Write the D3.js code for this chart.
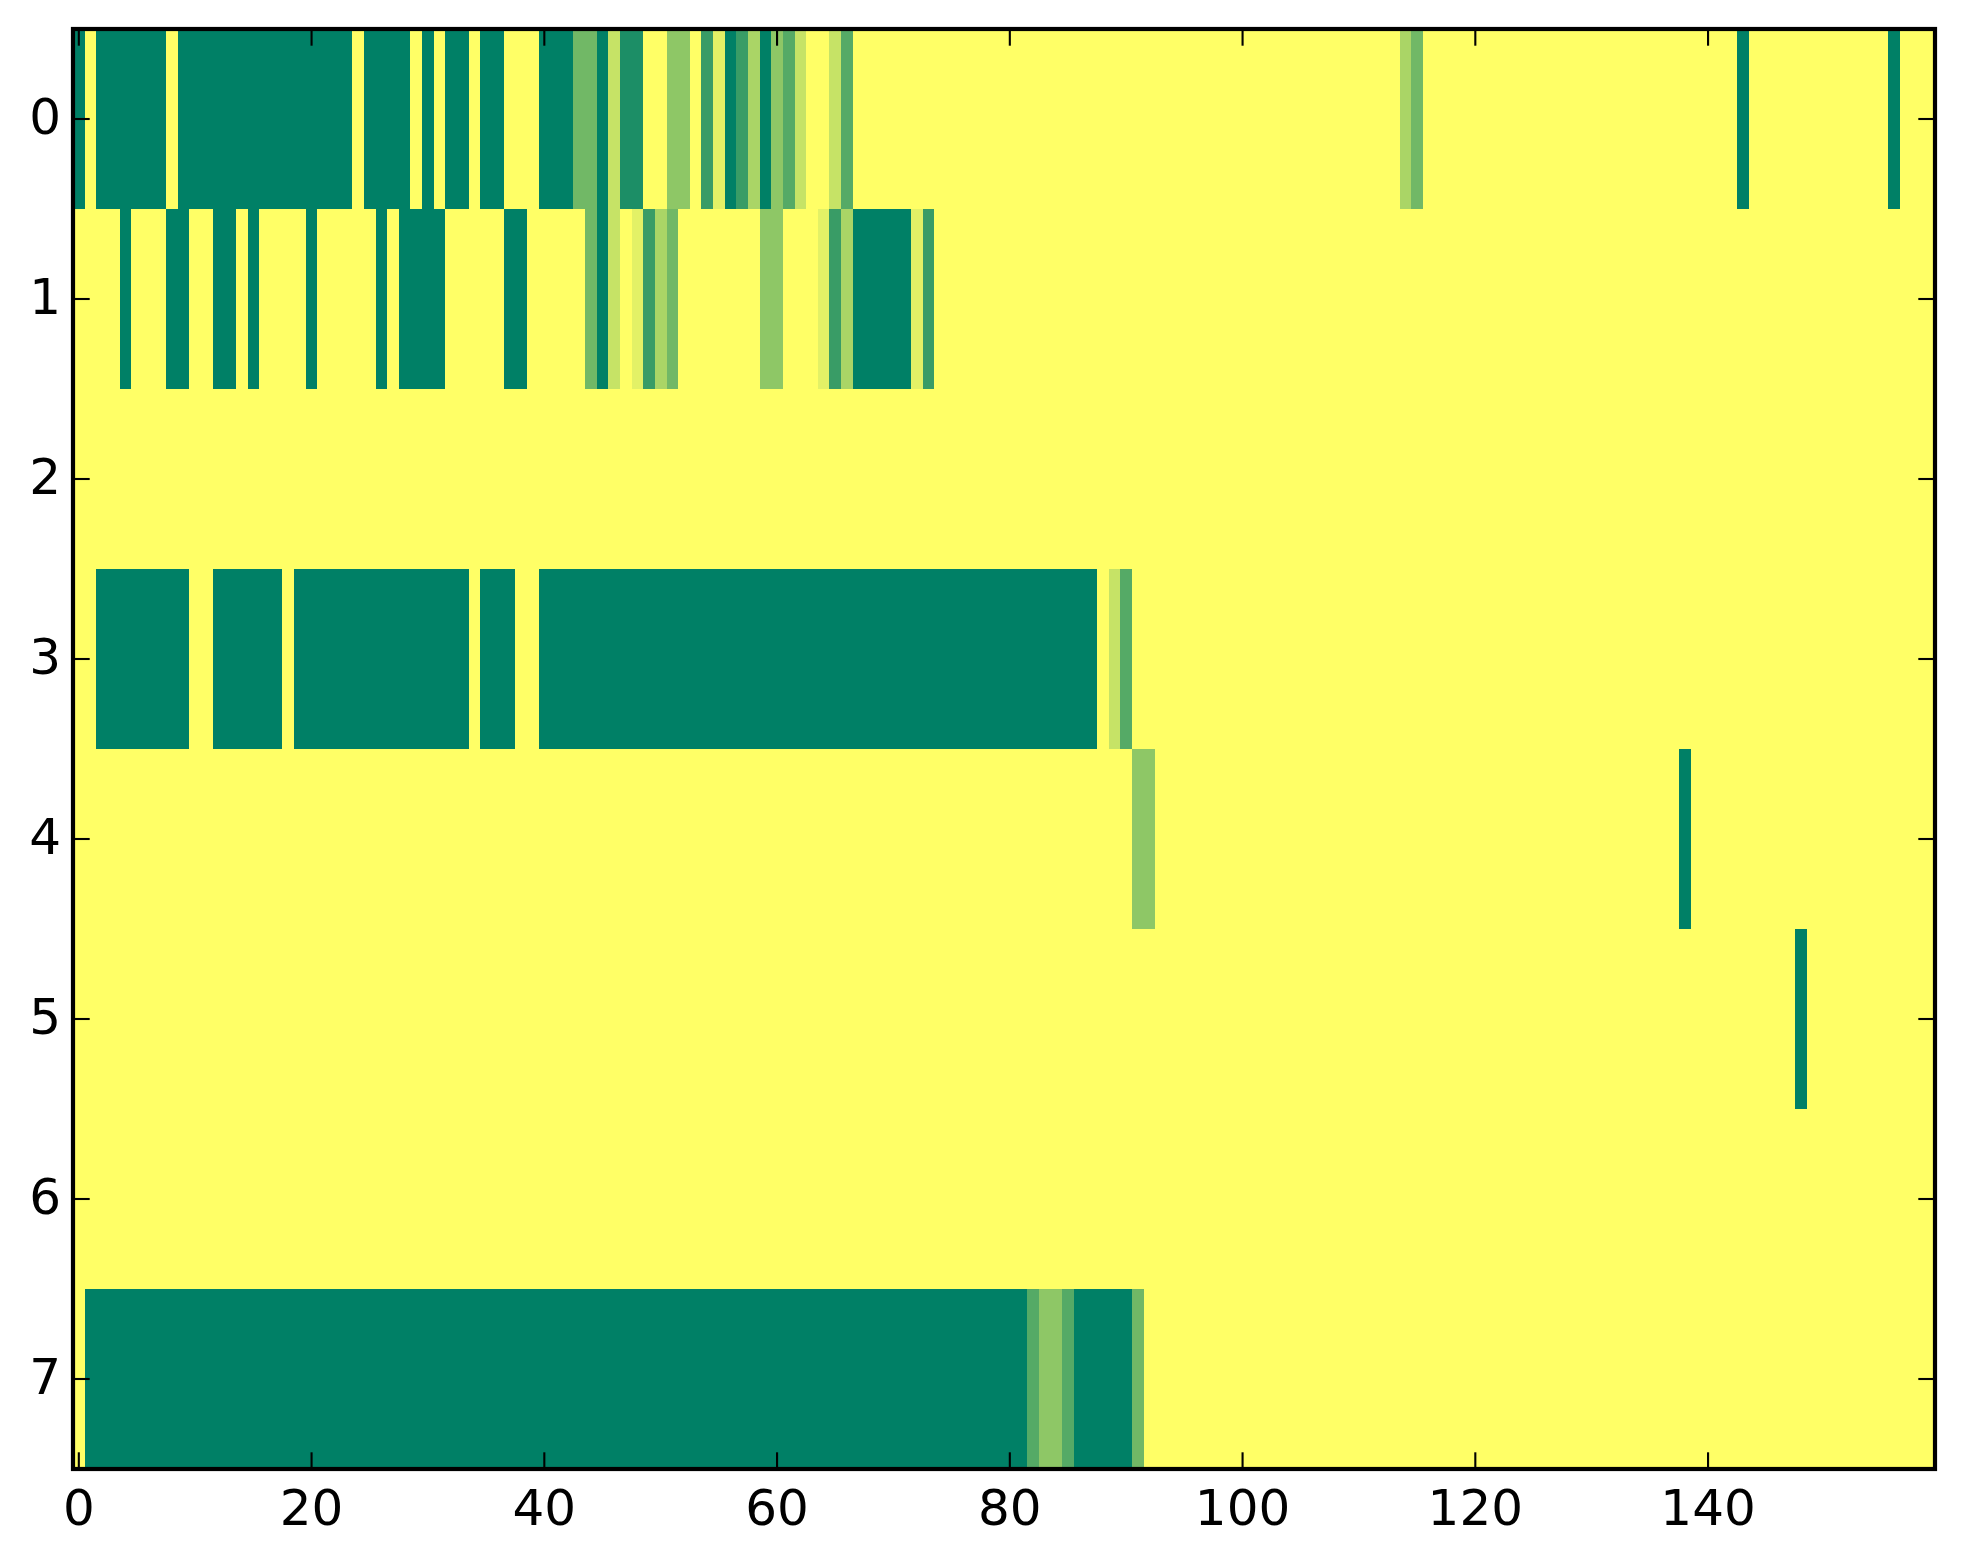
<!DOCTYPE html>
<html>
<head>
<meta charset="utf-8">
<script src="https://cdn.jsdelivr.net/npm/d3@7"></script>
<style>
  html, body { margin: 0; padding: 0; background: #fff; }
  svg { display: block; }
</style>
</head>
<body>
<svg id="chart"></svg>
<script>
// Cell values, counts 0..9 per column (160 columns per row)
const row0 = [
  9,0,9,9,9,9,9,9,0,9,9,9,9,9,9,9,9,9,9,9,
  9,9,9,9,0,9,9,9,9,0,9,0,9,9,0,9,9,0,0,0,
  9,9,9,5,5,9,2,8,8,0,0,4,4,0,7,1,9,7,3,9,
  4,6,2,0,0,2,6,0,0,0,0,0,0,0,0,0,0,0,0,0,
  0,0,0,0,0,0,0,0,0,0,0,0,0,0,0,0,0,0,0,0,
  0,0,0,0,0,0,0,0,0,0,0,0,0,0,3,5,0,0,0,0,
  0,0,0,0,0,0,0,0,0,0,0,0,0,0,0,0,0,0,0,0,
  0,0,0,9,0,0,0,0,0,0,0,0,0,0,0,0,9,0,0,0
];
const row1 = [
  0,0,0,0,9,0,0,0,9,9,0,0,9,9,0,9,0,0,0,0,
  9,0,0,0,0,0,9,0,9,9,9,9,0,0,0,0,0,9,9,0,
  0,0,0,0,5,9,2,0,1,7,3,5,0,0,0,0,0,0,0,4,
  4,0,0,0,1,7,3,9,9,9,9,9,1,7,0,0,0,0,0,0,
  0,0,0,0,0,0,0,0,0,0,0,0,0,0,0,0,0,0,0,0,
  0,0,0,0,0,0,0,0,0,0,0,0,0,0,0,0,0,0,0,0,
  0,0,0,0,0,0,0,0,0,0,0,0,0,0,0,0,0,0,0,0,
  0,0,0,0,0,0,0,0,0,0,0,0,0,0,0,0,0,0,0,0
];
const row2 = [
  0,0,0,0,0,0,0,0,0,0,0,0,0,0,0,0,0,0,0,0,
  0,0,0,0,0,0,0,0,0,0,0,0,0,0,0,0,0,0,0,0,
  0,0,0,0,0,0,0,0,0,0,0,0,0,0,0,0,0,0,0,0,
  0,0,0,0,0,0,0,0,0,0,0,0,0,0,0,0,0,0,0,0,
  0,0,0,0,0,0,0,0,0,0,0,0,0,0,0,0,0,0,0,0,
  0,0,0,0,0,0,0,0,0,0,0,0,0,0,0,0,0,0,0,0,
  0,0,0,0,0,0,0,0,0,0,0,0,0,0,0,0,0,0,0,0,
  0,0,0,0,0,0,0,0,0,0,0,0,0,0,0,0,0,0,0,0
];
const row3 = [
  0,0,9,9,9,9,9,9,9,9,0,0,9,9,9,9,9,9,0,9,
  9,9,9,9,9,9,9,9,9,9,9,9,9,9,0,9,9,9,0,0,
  9,9,9,9,9,9,9,9,9,9,9,9,9,9,9,9,9,9,9,9,
  9,9,9,9,9,9,9,9,9,9,9,9,9,9,9,9,9,9,9,9,
  9,9,9,9,9,9,9,9,0,2,6,0,0,0,0,0,0,0,0,0,
  0,0,0,0,0,0,0,0,0,0,0,0,0,0,0,0,0,0,0,0,
  0,0,0,0,0,0,0,0,0,0,0,0,0,0,0,0,0,0,0,0,
  0,0,0,0,0,0,0,0,0,0,0,0,0,0,0,0,0,0,0,0
];
const row4 = [
  0,0,0,0,0,0,0,0,0,0,0,0,0,0,0,0,0,0,0,0,
  0,0,0,0,0,0,0,0,0,0,0,0,0,0,0,0,0,0,0,0,
  0,0,0,0,0,0,0,0,0,0,0,0,0,0,0,0,0,0,0,0,
  0,0,0,0,0,0,0,0,0,0,0,0,0,0,0,0,0,0,0,0,
  0,0,0,0,0,0,0,0,0,0,0,4,4,0,0,0,0,0,0,0,
  0,0,0,0,0,0,0,0,0,0,0,0,0,0,0,0,0,0,0,0,
  0,0,0,0,0,0,0,0,0,0,0,0,0,0,0,0,0,0,9,0,
  0,0,0,0,0,0,0,0,0,0,0,0,0,0,0,0,0,0,0,0
];
const row5 = [
  0,0,0,0,0,0,0,0,0,0,0,0,0,0,0,0,0,0,0,0,
  0,0,0,0,0,0,0,0,0,0,0,0,0,0,0,0,0,0,0,0,
  0,0,0,0,0,0,0,0,0,0,0,0,0,0,0,0,0,0,0,0,
  0,0,0,0,0,0,0,0,0,0,0,0,0,0,0,0,0,0,0,0,
  0,0,0,0,0,0,0,0,0,0,0,0,0,0,0,0,0,0,0,0,
  0,0,0,0,0,0,0,0,0,0,0,0,0,0,0,0,0,0,0,0,
  0,0,0,0,0,0,0,0,0,0,0,0,0,0,0,0,0,0,0,0,
  0,0,0,0,0,0,0,0,9,0,0,0,0,0,0,0,0,0,0,0
];
const row6 = [
  0,0,0,0,0,0,0,0,0,0,0,0,0,0,0,0,0,0,0,0,
  0,0,0,0,0,0,0,0,0,0,0,0,0,0,0,0,0,0,0,0,
  0,0,0,0,0,0,0,0,0,0,0,0,0,0,0,0,0,0,0,0,
  0,0,0,0,0,0,0,0,0,0,0,0,0,0,0,0,0,0,0,0,
  0,0,0,0,0,0,0,0,0,0,0,0,0,0,0,0,0,0,0,0,
  0,0,0,0,0,0,0,0,0,0,0,0,0,0,0,0,0,0,0,0,
  0,0,0,0,0,0,0,0,0,0,0,0,0,0,0,0,0,0,0,0,
  0,0,0,0,0,0,0,0,0,0,0,0,0,0,0,0,0,0,0,0
];
const row7 = [
  0,9,9,9,9,9,9,9,9,9,9,9,9,9,9,9,9,9,9,9,
  9,9,9,9,9,9,9,9,9,9,9,9,9,9,9,9,9,9,9,9,
  9,9,9,9,9,9,9,9,9,9,9,9,9,9,9,9,9,9,9,9,
  9,9,9,9,9,9,9,9,9,9,9,9,9,9,9,9,9,9,9,9,
  9,9,6,4,4,6,9,9,9,9,9,5,0,0,0,0,0,0,0,0,
  0,0,0,0,0,0,0,0,0,0,0,0,0,0,0,0,0,0,0,0,
  0,0,0,0,0,0,0,0,0,0,0,0,0,0,0,0,0,0,0,0,
  0,0,0,0,0,0,0,0,0,0,0,0,0,0,0,0,0,0,0,0
];
const rows = [row0, row1, row2, row3, row4, row5, row6, row7];
const xTicks = [0, 20, 40, 60, 80, 100, 120, 140];
const yTicks = [0, 1, 2, 3, 4, 5, 6, 7];
const valueMax = 9;

const W = 1963, H = 1564;
const plot = {left: 73, right: 1935, top: 29, bottom: 1469};
const tickLen = 16.7;

const svg = d3.select("#chart")
    .attr("width", W)
    .attr("height", H)
    .attr("viewBox", [0, 0, W, H]);

const nCols = rows[0].length;
const x = d3.scaleLinear().domain([-0.5, nCols - 0.5]).range([plot.left, plot.right]);
const y = d3.scaleLinear().domain([-0.5, rows.length - 0.5]).range([plot.top, plot.bottom]);

// summer_r colormap: 0 -> yellow, max -> green
const color = d3.scaleLinear().domain([0, valueMax]).range(["#ffff66", "#008066"]);

const cells = [];
rows.forEach((r, ri) => r.forEach((v, ci) => cells.push({row: ri, col: ci, v: v})));

svg.append("g")
    .attr("shape-rendering", "crispEdges")
  .selectAll("rect")
  .data(cells)
  .join("rect")
    .attr("x", d => x(d.col - 0.5))
    .attr("y", d => y(d.row - 0.5))
    .attr("width", d => x(d.col + 0.5) - x(d.col - 0.5) + 0.5)
    .attr("height", d => y(d.row + 0.5) - y(d.row - 0.5) + 0.5)
    .attr("fill", d => color(d.v));

// ticks pointing inward on all four sides
const tickStyle = g => g.selectAll("line")
    .attr("stroke", "#000")
    .attr("stroke-width", 2.1);

const gTicks = svg.append("g");
gTicks.selectAll(".xb").data(xTicks).join("line")
    .attr("x1", d => x(d)).attr("x2", d => x(d))
    .attr("y1", plot.bottom).attr("y2", plot.bottom - tickLen);
gTicks.selectAll(".xt").data(xTicks).join("line").attr("class", "xt")
    .attr("x1", d => x(d)).attr("x2", d => x(d))
    .attr("y1", plot.top).attr("y2", plot.top + tickLen);
gTicks.selectAll(".yl").data(yTicks).join("line").attr("class", "yl")
    .attr("y1", d => y(d)).attr("y2", d => y(d))
    .attr("x1", plot.left).attr("x2", plot.left + tickLen);
gTicks.selectAll(".yr").data(yTicks).join("line").attr("class", "yr")
    .attr("y1", d => y(d)).attr("y2", d => y(d))
    .attr("x1", plot.right).attr("x2", plot.right - tickLen);
gTicks.call(tickStyle);

// frame
svg.append("rect")
    .attr("x", plot.left).attr("y", plot.top)
    .attr("width", plot.right - plot.left)
    .attr("height", plot.bottom - plot.top)
    .attr("fill", "none")
    .attr("stroke", "#000")
    .attr("stroke-width", 4.2);

// tick labels
const labels = svg.append("g")
    .attr("font-family", "'DejaVu Sans', sans-serif")
    .attr("font-size", 50)
    .attr("fill", "#000");

labels.selectAll(".xl").data(xTicks).join("text")
    .attr("x", d => x(d))
    .attr("y", plot.bottom + 56)
    .attr("text-anchor", "middle")
    .text(d => d);

labels.selectAll(".ylab").data(yTicks).join("text").attr("class", "ylab")
    .attr("x", plot.left - 12)
    .attr("y", d => y(d) + 15)
    .attr("text-anchor", "end")
    .text(d => d);
</script>
</body>
</html>
